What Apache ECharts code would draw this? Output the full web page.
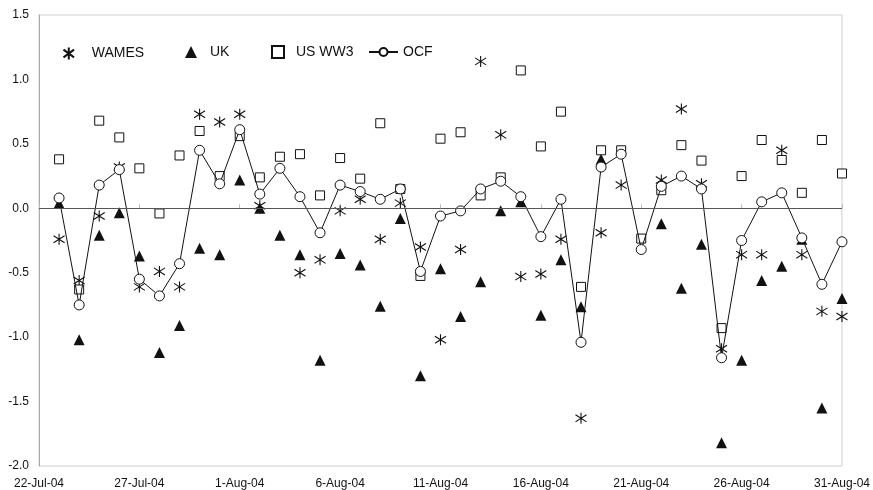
<!DOCTYPE html>
<html>
<head>
<meta charset="utf-8">
<script src="https://cdn.jsdelivr.net/npm/echarts@6/dist/echarts.min.js"></script>
<style>
  html, body { margin: 0; padding: 0; background: #fff; }
  #chart { width: 873px; height: 490px; }
</style>
</head>
<body>
<div id="chart"></div>
<script>
// day offset from 22-Jul-04
const days = [1,2,3,4,5,6,7,8,9,10,11,12,13,14,15,16,17,18,19,20,
              21,22,23,24,25,26,27,28,29,30,31,32,33,34,35,36,37,38,39,40];
const tickLabels = ['22-Jul-04','27-Jul-04','1-Aug-04','6-Aug-04','11-Aug-04',
                    '16-Aug-04','21-Aug-04','26-Aug-04','31-Aug-04'];

const wames = [-0.24,-0.56,-0.06,0.32,-0.61,-0.49,-0.61,0.73,0.67,0.73,
               0.02,null,-0.50,-0.40,-0.02,0.07,-0.24,0.04,-0.30,-1.02,
               -0.32,1.14,0.57,-0.53,-0.51,-0.24,-1.63,-0.19,0.18,null,
               0.22,0.77,0.19,-1.09,-0.36,-0.36,0.45,-0.36,-0.80,-0.84];
const uk = [0.04,-1.02,-0.21,-0.035,-0.37,-1.12,-0.91,-0.31,-0.36,0.22,
            0.0,-0.21,-0.36,-1.18,-0.35,-0.44,-0.76,-0.08,-1.30,-0.47,
            -0.84,-0.57,-0.02,0.05,-0.83,-0.40,-0.765,0.38,null,null,
            -0.12,-0.62,-0.28,-1.82,-1.18,-0.56,-0.45,-0.24,-1.55,-0.70];
const usww3 = [0.38,-0.63,0.68,0.55,0.31,-0.04,0.41,0.60,0.25,0.56,
               0.24,0.40,0.42,0.10,0.39,0.23,0.66,0.15,-0.525,0.54,
               0.59,0.10,0.24,1.07,0.48,0.75,-0.61,0.45,0.45,-0.235,
               0.14,0.49,0.37,-0.93,0.25,0.53,0.375,0.12,0.53,0.27];
const ocf = [0.08,-0.75,0.18,0.30,-0.55,-0.68,-0.43,0.45,0.19,0.61,
             0.11,0.31,0.09,-0.19,0.18,0.13,0.07,0.15,-0.49,-0.06,
             -0.02,0.15,0.21,0.09,-0.22,0.07,-1.04,0.32,0.42,-0.32,
             0.17,0.25,0.15,-1.16,-0.25,0.05,0.12,-0.23,-0.59,-0.26];

function pairs(vals) {
  return days.map(function (d, i) { return [d, vals[i]]; });
}

// vertical bar + X, like the excel "star" marker
const asterisk = 'path://M5,0L5,10M0.6,1.8L9.4,8.2M0.6,8.2L9.4,1.8';
const ink = '#111';
const font = 'Liberation Sans, Arial, sans-serif';

const myChart = echarts.init(document.getElementById('chart'));

function legendAt(name, left, pad) {
  let isLine = name === 'OCF';
  return {
    data: [name],
    left: left,
    top: 45,
    padding: 0,
    itemWidth: isLine ? 29 : 12,
    itemHeight: isLine ? 10 : 12,
    selectedMode: false,
    textStyle: { fontFamily: font, fontSize: 14, color: ink, padding: [0, 0, 0, pad] }
  };
}

myChart.setOption({
  animation: false,
  legend: [
    legendAt('WAMES', 61, 12),
    legendAt('UK', 185, 8),
    legendAt('US WW3', 271, 7),
    legendAt('OCF', 368, 0)
  ],
  grid: {
    left: 39, right: 30, top: 15, bottom: 23,
    show: true, borderColor: '#cfcfcf', borderWidth: 1
  },
  xAxis: {
    type: 'value',
    min: 0, max: 40, interval: 5,
    splitLine: { show: false },
    axisLine: { lineStyle: { color: '#cfcfcf' } },
    axisTick: { inside: true, length: 4, lineStyle: { color: '#bbb' } },
    axisLabel: {
      color: ink, fontFamily: font, fontSize: 12, margin: 12,
      showMinLabel: true, showMaxLabel: true,
      formatter: function (v) { return tickLabels[v / 5]; }
    }
  },
  yAxis: {
    type: 'value',
    min: -2, max: 1.5, interval: 0.5,
    splitLine: { show: false },
    axisLine: { show: true, lineStyle: { color: '#aaa' } },
    axisTick: { show: false },
    axisLabel: {
      color: ink, fontFamily: font, fontSize: 12, margin: 10,
      formatter: function (v) { return v.toFixed(1); }
    }
  },
  series: [
    {
      name: 'WAMES', type: 'scatter', data: pairs(wames),
      symbol: asterisk, symbolSize: 11,
      itemStyle: { color: 'none', borderColor: ink, borderWidth: 1.1, opacity: 1 },
      markLine: {
        silent: true, symbol: 'none', label: { show: false },
        lineStyle: { color: '#555', width: 1, type: 'solid' },
        data: [{ yAxis: 0 }]
      }
    },
    {
      name: 'UK', type: 'scatter', data: pairs(uk),
      symbol: 'triangle', symbolSize: 11,
      itemStyle: { color: ink, opacity: 1 }
    },
    {
      name: 'US WW3', type: 'scatter', data: pairs(usww3),
      symbol: 'rect', symbolSize: 9,
      itemStyle: { color: '#fff', borderColor: ink, borderWidth: 1, opacity: 1 }
    },
    {
      name: 'OCF', type: 'line', data: pairs(ocf),
      symbol: 'circle', symbolSize: 10, showAllSymbol: true,
      lineStyle: { color: ink, width: 1 },
      itemStyle: { color: '#fff', borderColor: ink, borderWidth: 1 }
    }
  ]
});
</script>
</body>
</html>
